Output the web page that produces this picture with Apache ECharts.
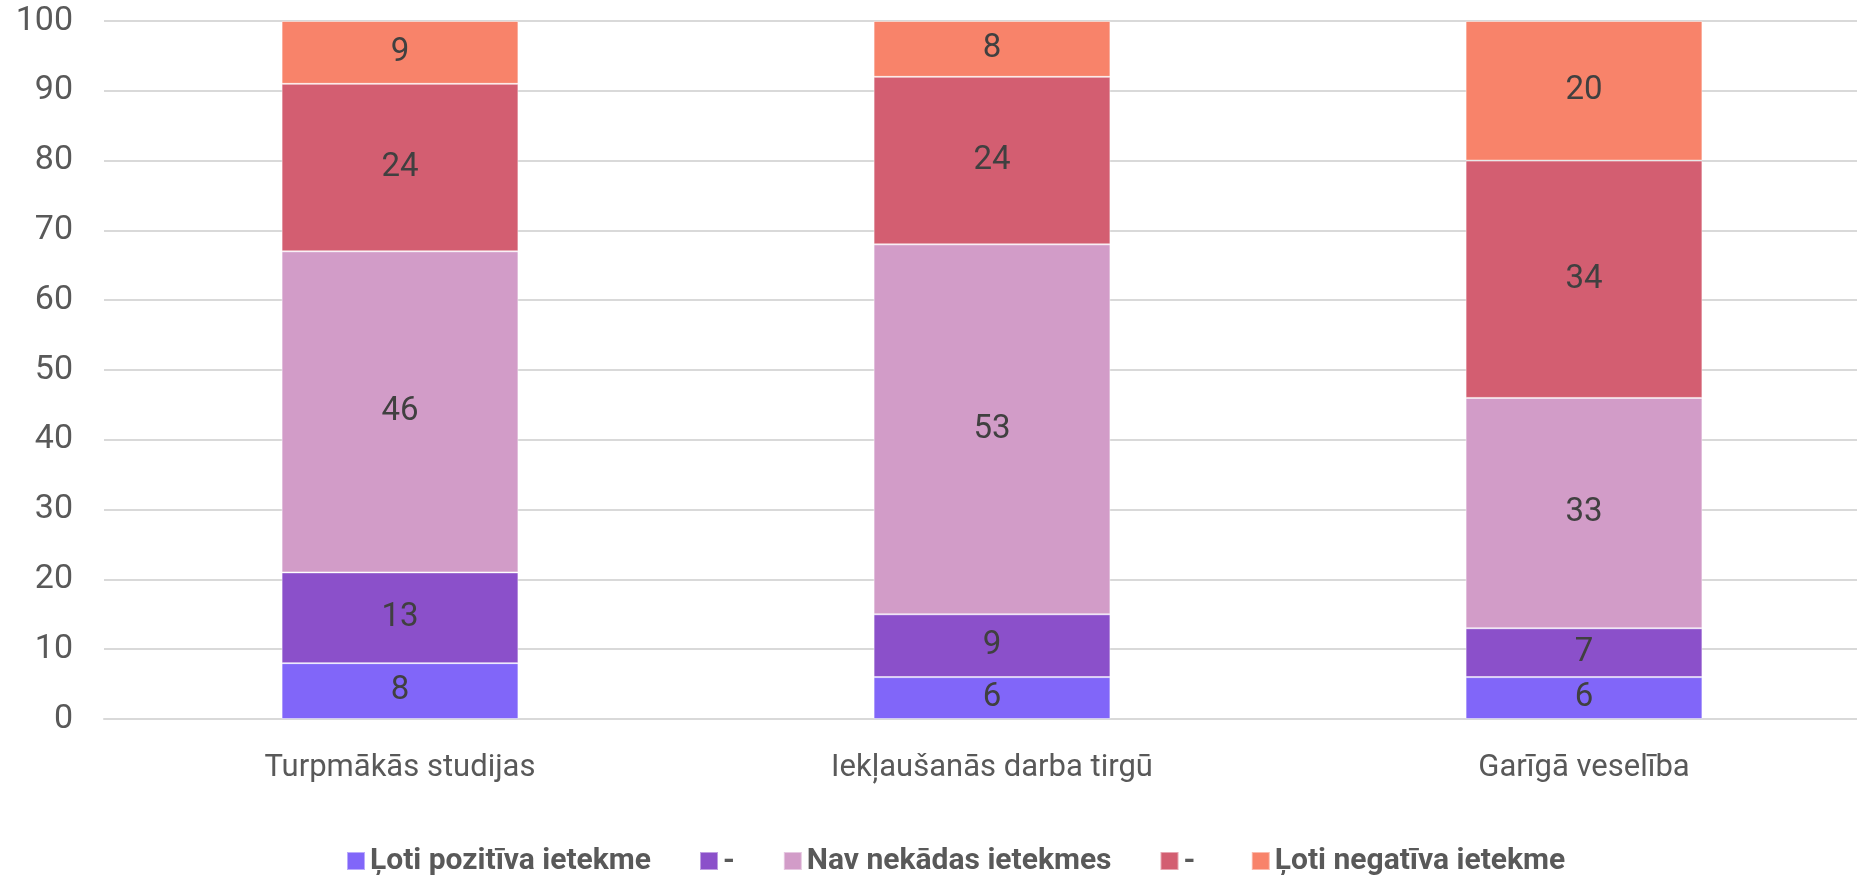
<!DOCTYPE html>
<html>
<head>
<meta charset="utf-8">
<style>
  html, body { margin: 0; padding: 0; background: #fff; }
  #chart { width: 1857px; height: 875px; }
</style>
<script src="https://cdn.jsdelivr.net/npm/echarts@6/dist/echarts.min.js"></script>
</head>
<body>
<div id="chart"></div>
<script>
// kategorijas
var categories = ['Turpmākās studijas', 'Iekļaušanās darba tirgū', 'Garīgā veselība'];

// sēriju nosaukumi un vērtības
var seriesNames = ['Ļoti pozitīva ietekme', '-', 'Nav nekādas ietekmes', '- ', 'Ļoti negatīva ietekme'];
var veryPositive = [8, 6, 6];
var positive = [13, 9, 7];
var noEffect = [46, 53, 33];
var negative = [24, 24, 34];
var veryNegative = [9, 8, 20];

var colors = ['#8166F9', '#8B50CA', '#D29CC8', '#D35E71', '#F8836A'];
var yTicks = [0, 10, 20, 30, 40, 50, 60, 70, 80, 90, 100];

var chart = echarts.init(document.getElementById('chart'));
var font = 'Roboto';

function makeSeries(name, data, idx) {
    return {
        name: name,
        type: 'bar',
        stack: 'total',
        barWidth: '40%',
        data: data,
        itemStyle: {
            color: colors[idx],
            borderColor: 'rgba(255,255,255,0.45)',
            borderWidth: 1
        },
        label: {
            show: true,
            position: 'inside',
            color: '#404040',
            fontFamily: font,
            fontSize: 33
        }
    };
}

var option = {
    animation: false,
    grid: {
        left: 104,
        top: 21,
        width: 1776,
        height: 698,
        outerBoundsMode: 'none',
        containLabel: false
    },
    legend: {
        data: seriesNames,
        top: 841,
        left: 341,
        icon: 'rect',
        itemWidth: 18,
        itemHeight: 18,
        itemGap: 48,
        textStyle: {
            color: '#595959',
            fontFamily: font,
            fontWeight: 'bold',
            fontSize: 30
        }
    },
    xAxis: {
        type: 'category',
        data: categories,
        axisTick: { show: false },
        axisLine: { lineStyle: { color: '#d9d9d9', width: 2 } },
        axisLabel: {
            color: '#595959',
            fontFamily: font,
            fontSize: 31,
            margin: 34
        }
    },
    yAxis: {
        type: 'value',
        min: yTicks[0],
        max: yTicks[yTicks.length - 1],
        interval: 10,
        axisLine: { show: false },
        axisTick: { show: false },
        splitLine: { lineStyle: { color: '#d9d9d9', width: 2 } },
        axisLabel: {
            color: '#595959',
            fontFamily: font,
            fontSize: 34,
            margin: 31
        }
    },
    series: [
        makeSeries(seriesNames[0], veryPositive, 0),
        makeSeries(seriesNames[1], positive, 1),
        makeSeries(seriesNames[2], noEffect, 2),
        makeSeries(seriesNames[3], negative, 3),
        makeSeries(seriesNames[4], veryNegative, 4)
    ]
};

chart.setOption(option);
</script>
</body>
</html>
